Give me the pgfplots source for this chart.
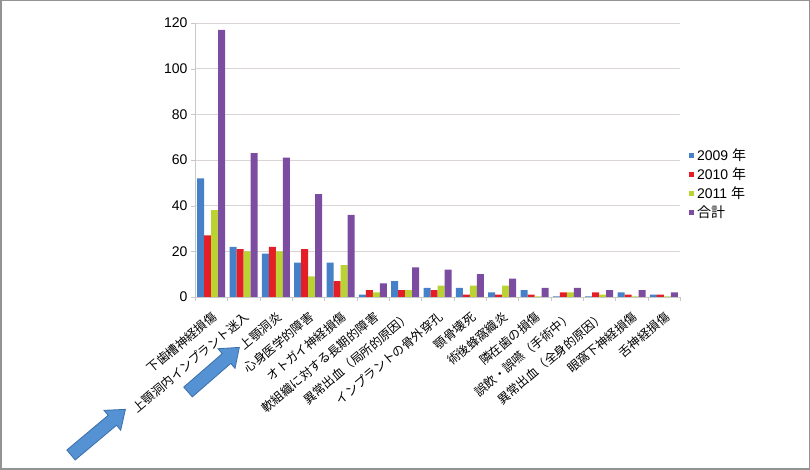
\documentclass[border=0pt]{standalone}
\usepackage{fontspec}
\setmainfont{Liberation Sans}
\newfontfamily\jp{Noto Sans CJK JP}
\usepackage{pgfplots}
\pgfplotsset{compat=1.18}

\definecolor{c09}{RGB}{70,128,200}
\definecolor{c10}{RGB}{228,30,38}
\definecolor{c11}{RGB}{186,210,50}
\definecolor{ctot}{RGB}{124,76,160}
\definecolor{arrowfill}{RGB}{84,146,212}
\definecolor{arrowedge}{RGB}{60,110,170}
\definecolor{gridc}{RGB}{218,212,212}
\definecolor{axc}{RGB}{200,200,200}

\begin{document}
\begin{tikzpicture}[x=1pt,y=1pt]
\useasboundingbox (0,0) rectangle (810,470);
\draw[gray!85, line width=1.5pt] (0.75,0.75) rectangle (809.25,469.25);
\begin{axis}[
  at={(195pt,173pt)}, anchor=south west,
  scale only axis, width=485pt, height=274pt,
  xmin=-0.5, xmax=14.5, ymin=0, ymax=120,
  ytick={0,20,...,120},
  xtick={0,...,14},
  xticklabels={下歯槽神経損傷,上顎洞内インプラント迷入,上顎洞炎,心身医学的障害,オトガイ神経損傷,軟組織に対する長期的障害,異常出血（局所的原因）,インプラントの骨外穿孔,顎骨壊死,術後蜂窩織炎,隣在歯の損傷,誤飲・誤嚥（手術中）,異常出血（全身的原因）,眼窩下神経損傷,舌神経損傷},
  major x tick style={draw=none},
  minor xtick={-0.5,0.5,...,14.5},
  minor x tick style={axc},
  major y tick style={axc},
  tick align=outside,
  major tick length=4pt, minor tick length=4pt,
  axis x line*=bottom, axis y line*=left,
  axis line style={axc, -},
  ymajorgrids, grid style={gridc},
  /pgf/number format/assume math mode=true,
  yticklabel style={font=\fontsize{14}{14}\selectfont},
  xticklabel style={font=\jp\fontsize{12.3}{12.3}\selectfont, rotate=40, anchor=east, inner sep=1pt, xshift=-5pt, yshift=-13pt},
  ybar=0pt, bar width=7pt,
  legend style={at={(1.012,0.555)}, anchor=north west, draw=none, fill=none,
    font=\fontsize{14}{14}\selectfont, row sep=1.5pt, legend cell align=left,
    /tikz/every odd column/.append style={column sep=1pt}},
  legend image code/.code={\fill[#1,draw=none] (0pt,-2.5pt) rectangle (5pt,2.5pt);},
]
\addplot[fill=c09, draw=none] coordinates {(0,52) (1,22) (2,19) (3,15) (4,15) (5,1) (6,7) (7,4) (8,4) (9,2) (10,3) (11,0.3) (12,0.3) (13,2) (14,1)};
\addplot[fill=c10, draw=none] coordinates {(0,27) (1,21) (2,22) (3,21) (4,7) (5,3) (6,3) (7,3) (8,1) (9,1) (10,1) (11,2) (12,2) (13,1) (14,1)};
\addplot[fill=c11, draw=none] coordinates {(0,38) (1,20) (2,20) (3,9) (4,14) (5,2) (6,3) (7,5) (8,5) (9,5) (10,0.3) (11,2) (12,1) (13,0.3) (14,0.3)};
\addplot[fill=ctot, draw=none] coordinates {(0,117) (1,63) (2,61) (3,45) (4,36) (5,6) (6,13) (7,12) (8,10) (9,8) (10,4) (11,4) (12,3) (13,3) (14,2)};
\legend{2009 {\jp 年}, 2010 {\jp 年}, 2011 {\jp 年}, {\jp 合計}}
\end{axis}
% annotation arrows
\begin{scope}[shift={(71,15)}, rotate=40]
\filldraw[fill=arrowfill, draw=arrowedge, line width=0.8pt]
  (0,-6.5) -- (54,-6.5) -- (54,-13) -- (71,0) -- (54,13) -- (54,6.5) -- (0,6.5) -- cycle;
\end{scope}
\begin{scope}[shift={(188,78)}, rotate=41]
\filldraw[fill=arrowfill, draw=arrowedge, line width=0.8pt]
  (0,-6.5) -- (51,-6.5) -- (51,-13) -- (68,0) -- (51,13) -- (51,6.5) -- (0,6.5) -- cycle;
\end{scope}
\end{tikzpicture}
\end{document}
